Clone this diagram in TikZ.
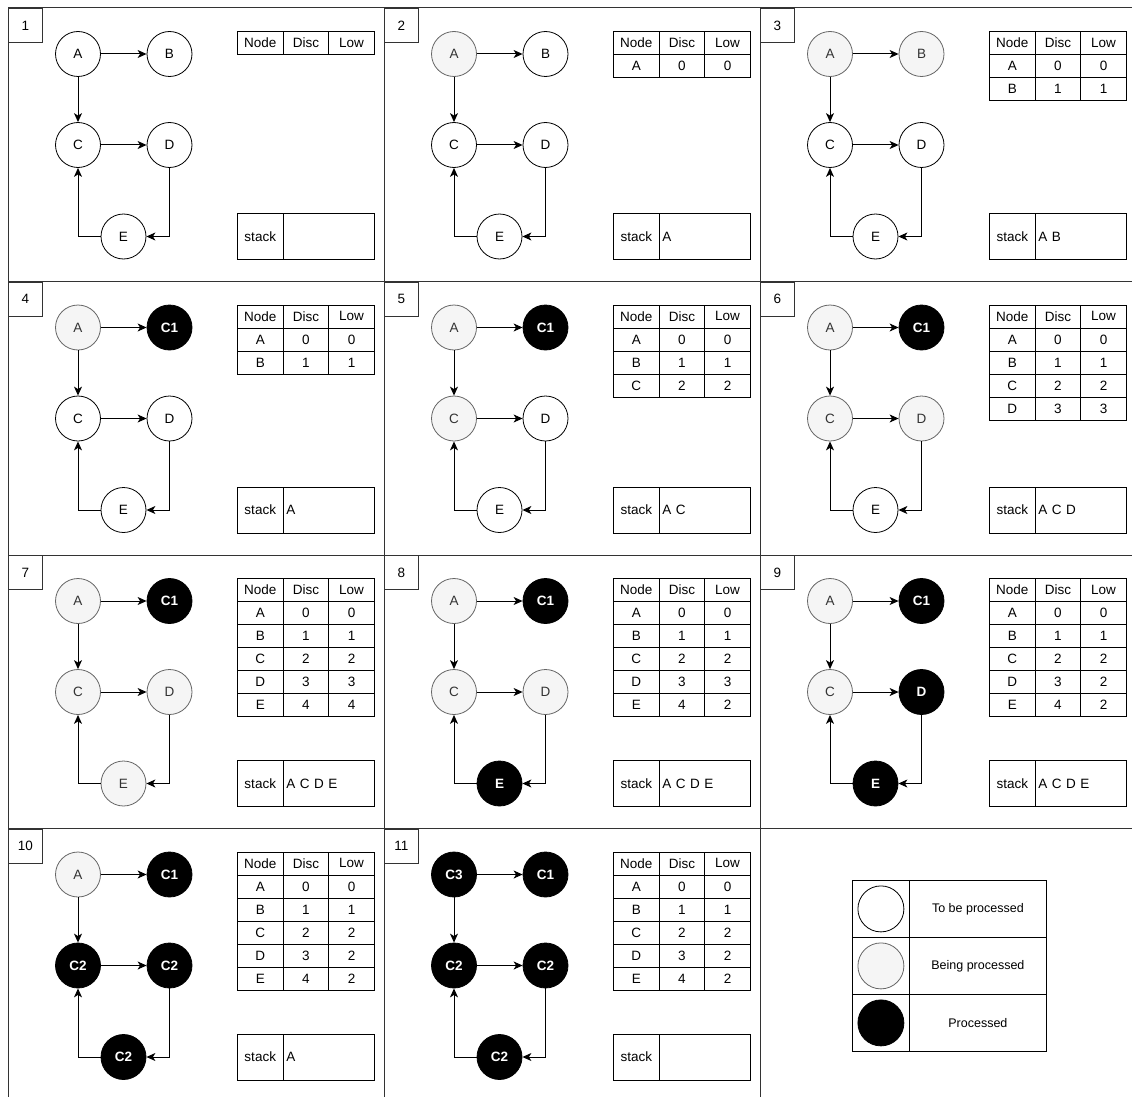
\documentclass[tikz,border=0pt]{standalone}
\usepackage{fontspec}
\setmainfont{Liberation Sans}
\usetikzlibrary{arrows.meta}
\definecolor{BusyFill}{HTML}{F5F5F5}
\definecolor{BusyLine}{HTML}{666666}
\definecolor{BusyText}{HTML}{333333}
\definecolor{FrameLine}{HTML}{333333}
\tikzset{
    % Panel pieces
    panel frame/.style={
        draw=FrameLine,
        line width=1pt
    },
    number box/.style={
        rectangle,
        draw=FrameLine,
        line width=0.8pt,
        anchor=north west,
        minimum width=34pt,
        minimum height=34pt,
        inner sep=0pt
    },
    cell/.style={
        rectangle,
        draw=black,
        line width=0.8pt,
        anchor=north west,
        minimum width=45.7pt,
        minimum height=23pt,
        inner sep=0pt
    },
    % Vertex states
    vertex/.style={
        circle,
        draw=black,
        line width=0.8pt,
        minimum size=45pt,
        inner sep=0pt
    },
    todo/.style={
        vertex,
        fill=white
    },
    busy/.style={
        vertex,
        fill=BusyFill,
        draw=BusyLine,
        text=BusyText
    },
    done/.style={
        vertex,
        fill=black,
        text=white,
        font=\fontsize{13.5}{16}\selectfont\bfseries
    },
    link/.style={
        -{Stealth[length=9pt, width=8pt, inset=2.5pt]},
        line width=1pt,
        black
    }
}

% one vertex: name, x, y, state, label
\newcommand{\vtx}[5]{\node[#4] (#1) at (#2,#3) {#5};}

% number box, graph and table header of one panel
\newcommand{\graphpanel}[6]{%
    \draw[panel frame] (0,0) rectangle (376,273.5);
    \node[number box] (num) at (0,0) {#1};
    \vtx{a}{70}{46}#2
    \vtx{b}{161.5}{46}#3
    \vtx{c}{70}{137}#4
    \vtx{d}{161.5}{137}#5
    \vtx{e}{115.5}{228.5}#6
    \draw[link] (a) -- (b);
    \draw[link] (a) -- (c);
    \draw[link] (c) -- (d);
    \draw[link] (d) |- (e);
    \draw[link] (e) -| (c);
    \node[cell] (hnode) at (229,23) {Node};
    \node[cell] (hdisc) at (274.7,23) {Disc};
    \node[cell] (hlow) at (320.3,23) {Low};
}

% rows of the disc/low table
\newcommand{\discrows}[1]{%
    \foreach \nd/\ds/\lw [count=\i] in {#1} {
        \node[cell] (n\i) at (229,23+23*\i) {\nd};
        \node[cell] (d\i) at (274.7,23+23*\i) {\ds};
        \node[cell] (l\i) at (320.3,23+23*\i) {\lw};
    }
}

% stack box
\newcommand{\stackbox}[1]{%
    \node[cell, minimum height=46pt] (stk) at (229,205) {stack};
    \node[cell, minimum width=91.4pt, minimum height=46pt, text width=85pt,
        align=left, inner xsep=3pt] (stkval) at (274.7,205) {#1};
}

\begin{document}
\begin{tikzpicture}[x=1pt, y=-1pt, font=\fontsize{13.5}{16}\selectfont]
    \useasboundingbox (0,0) rectangle (1132,1097);
    \clip (0,0) rectangle (1132,1097);

    % Panel 1
    \begin{scope}[shift={(8,8)}, name prefix=p1-]
        \graphpanel{1}{{todo}{A}}{{todo}{B}}{{todo}{C}}{{todo}{D}}{{todo}{E}}
        \stackbox{}
    \end{scope}

    % Panel 2
    \begin{scope}[shift={(384,8)}, name prefix=p2-]
        \graphpanel{2}{{busy}{A}}{{todo}{B}}{{todo}{C}}{{todo}{D}}{{todo}{E}}
        \discrows{A/0/0}
        \stackbox{A}
    \end{scope}

    % Panel 3
    \begin{scope}[shift={(760,8)}, name prefix=p3-]
        \graphpanel{3}{{busy}{A}}{{busy}{B}}{{todo}{C}}{{todo}{D}}{{todo}{E}}
        \discrows{A/0/0,B/1/1}
        \stackbox{A B}
    \end{scope}

    % Panel 4
    \begin{scope}[shift={(8,281.5)}, name prefix=p4-]
        \graphpanel{4}{{busy}{A}}{{done}{C1}}{{todo}{C}}{{todo}{D}}{{todo}{E}}
        \discrows{A/0/0,B/1/1}
        \stackbox{A}
    \end{scope}

    % Panel 5
    \begin{scope}[shift={(384,281.5)}, name prefix=p5-]
        \graphpanel{5}{{busy}{A}}{{done}{C1}}{{busy}{C}}{{todo}{D}}{{todo}{E}}
        \discrows{A/0/0,B/1/1,C/2/2}
        \stackbox{A C}
    \end{scope}

    % Panel 6
    \begin{scope}[shift={(760,281.5)}, name prefix=p6-]
        \graphpanel{6}{{busy}{A}}{{done}{C1}}{{busy}{C}}{{busy}{D}}{{todo}{E}}
        \discrows{A/0/0,B/1/1,C/2/2,D/3/3}
        \stackbox{A C D}
    \end{scope}

    % Panel 7
    \begin{scope}[shift={(8,555)}, name prefix=p7-]
        \graphpanel{7}{{busy}{A}}{{done}{C1}}{{busy}{C}}{{busy}{D}}{{busy}{E}}
        \discrows{A/0/0,B/1/1,C/2/2,D/3/3,E/4/4}
        \stackbox{A C D E}
    \end{scope}

    % Panel 8
    \begin{scope}[shift={(384,555)}, name prefix=p8-]
        \graphpanel{8}{{busy}{A}}{{done}{C1}}{{busy}{C}}{{busy}{D}}{{done}{E}}
        \discrows{A/0/0,B/1/1,C/2/2,D/3/3,E/4/2}
        \stackbox{A C D E}
    \end{scope}

    % Panel 9
    \begin{scope}[shift={(760,555)}, name prefix=p9-]
        \graphpanel{9}{{busy}{A}}{{done}{C1}}{{busy}{C}}{{done}{D}}{{done}{E}}
        \discrows{A/0/0,B/1/1,C/2/2,D/3/2,E/4/2}
        \stackbox{A C D E}
    \end{scope}

    % Panel 10
    \begin{scope}[shift={(8,828.5)}, name prefix=p10-]
        \graphpanel{10}{{busy}{A}}{{done}{C1}}{{done}{C2}}{{done}{C2}}{{done}{C2}}
        \discrows{A/0/0,B/1/1,C/2/2,D/3/2,E/4/2}
        \stackbox{A}
    \end{scope}

    % Panel 11
    \begin{scope}[shift={(384,828.5)}, name prefix=p11-]
        \graphpanel{11}{{done}{C3}}{{done}{C1}}{{done}{C2}}{{done}{C2}}{{done}{C2}}
        \discrows{A/0/0,B/1/1,C/2/2,D/3/2,E/4/2}
        \stackbox{}
    \end{scope}

    % Legend
    \begin{scope}[shift={(760,828.5)}, name prefix=key-, font=\fontsize{12.5}{15}\selectfont]
        \node[cell, minimum width=57pt, minimum height=57pt] (k1) at (92,51.5) {};
        \node[cell, minimum width=137pt, minimum height=57pt] (t1) at (149,51.5) {To be processed};
        \node[cell, minimum width=57pt, minimum height=57pt] (k2) at (92,108.5) {};
        \node[cell, minimum width=137pt, minimum height=57pt] (t2) at (149,108.5) {Being processed};
        \node[cell, minimum width=57pt, minimum height=57pt] (k3) at (92,165.5) {};
        \node[cell, minimum width=137pt, minimum height=57pt] (t3) at (149,165.5) {Processed};
        \node[todo, minimum size=46pt] (s1) at (k1.center) {};
        \node[busy, minimum size=46pt] (s2) at (k2.center) {};
        \node[done, minimum size=46pt] (s3) at (k3.center) {};
    \end{scope}
\end{tikzpicture}
\end{document}
